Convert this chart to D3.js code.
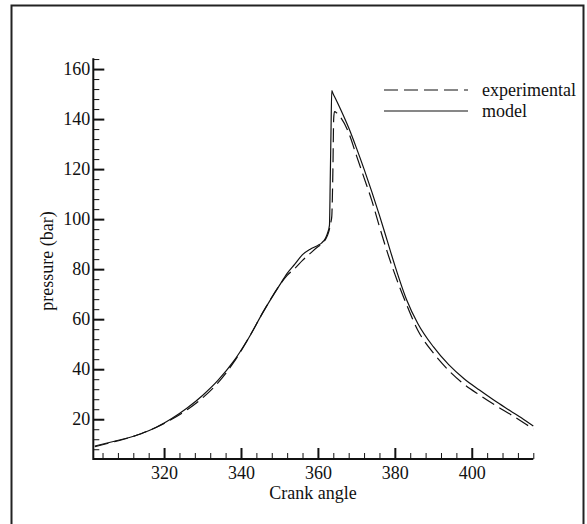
<!DOCTYPE html>
<html>
<head>
<meta charset="utf-8">
<script src="https://cdn.jsdelivr.net/npm/d3@7"></script>
<style>
  body { margin: 0; background: #fff; }
  svg text { font-family: "Liberation Serif", "Times New Roman", serif; fill: #111; }
</style>
</head>
<body>
<svg></svg>
<script>
// crank angle samples (deg)
const angles = [302, 306, 310, 314, 318, 322, 326, 330, 334, 338, 342, 346, 350, 352, 354, 356, 358, 360, 361, 362,
  362.5, 363.0, 363.2, 363.4, 363.6, 363.9, 364.1, 364.3, 365, 366, 368, 370, 372, 374, 376, 378, 380, 383, 386, 390,
  394, 398, 402, 406, 410, 414, 416];

// model pressure (bar)
const modelP = [9.3, 10.8, 12.3, 14.2, 16.8, 20.3, 24.5, 29.5, 35.5, 43, 52.5, 63.5, 73.5, 78.3, 82.0, 85.8, 88.0, 89.5, 90.5, 92.5,
  94.4, 97.5, 115, 135, 151.4, 150.3, 149.6, 149.0, 146.8, 143.5, 136.5, 128.5, 120, 111, 101.5, 91.5, 81.5, 68, 58.2, 49,
  41.8, 36.2, 31.7, 27.4, 23.4, 19.4, 17.3];

// experimental pressure (bar)
const expP = [9.0, 10.6, 12.2, 14.2, 16.8, 20.0, 23.8, 28.5, 34.5, 42.5, 52.5, 63.5, 73.5, 77.5, 80.3, 83.5, 86.3, 89.0, 90.0, 92,
  93.5, 96, 97.5, 99, 101, 120, 140, 143, 142.3, 140.5, 134.5, 125.5, 116.5, 107.5, 97, 87, 78, 66, 55.5, 46.5,
  39.5, 34, 29.7, 25.7, 22, 18.1, 16.1];

const xMajor = [320, 340, 360, 380, 400];
const yMajor = [20, 40, 60, 80, 100, 120, 140, 160];
const xMinor = d3.range(304, 417, 4).filter(v => !xMajor.includes(v));
const yMinor = d3.range(8, 165, 4).filter(v => !yMajor.includes(v));

const W = 587, H = 524;
const svg = d3.select('svg').attr('width', W).attr('height', H);

// outer frame
svg.append('rect')
  .attr('x', 11.5).attr('y', 5.5)
  .attr('width', 572).attr('height', 540)
  .attr('fill', 'none').attr('stroke', '#222').attr('stroke-width', 2);

const x = d3.scaleLinear().domain([301.6, 416]).range([93.3, 533.3]);
const y = d3.scaleLinear().domain([4.1, 164.3]).range([459, 58.3]);

const x0 = 459, y0 = 93.3;

// minor ticks
svg.append('g')
  .attr('transform', `translate(0,${x0})`)
  .call(d3.axisBottom(x).tickValues(xMinor).tickSize(-6).tickFormat(''))
  .call(g => g.select('.domain').remove())
  .call(g => g.selectAll('line').attr('stroke', '#111').attr('stroke-width', 1));
svg.append('g')
  .attr('transform', `translate(${y0},0)`)
  .call(d3.axisLeft(y).tickValues(yMinor).tickSize(-6).tickFormat(''))
  .call(g => g.select('.domain').remove())
  .call(g => g.selectAll('line').attr('stroke', '#111').attr('stroke-width', 1));

// major ticks + labels
svg.append('g')
  .attr('transform', `translate(0,${x0})`)
  .call(d3.axisBottom(x).tickValues(xMajor).tickSize(-11).tickSizeOuter(0).tickPadding(7))
  .call(g => g.select('.domain').remove())
  .call(g => g.selectAll('line').attr('stroke', '#111').attr('stroke-width', 2))
  .call(g => g.selectAll('text').attr('font-size', 18).attr('font-family', '"Liberation Serif", serif').attr('fill', '#111'));
svg.append('g')
  .attr('transform', `translate(${y0},0)`)
  .call(d3.axisLeft(y).tickValues(yMajor).tickSize(-11).tickSizeOuter(0).tickPadding(3))
  .call(g => g.select('.domain').remove())
  .call(g => g.selectAll('line').attr('stroke', '#111').attr('stroke-width', 2))
  .call(g => g.selectAll('text').attr('font-size', 18).attr('font-family', '"Liberation Serif", serif').attr('fill', '#111'));

// axis lines
svg.append('path')
  .attr('d', `M${y0},${y.range()[1]}V${x0}H${x.range()[1]}`)
  .attr('fill', 'none').attr('stroke', '#111').attr('stroke-width', 2);

// curves
const line = d3.line().curve(d3.curveMonotoneX).x(d => x(d[0])).y(d => y(d[1]));
svg.append('path')
  .datum(d3.zip(angles, expP))
  .attr('d', line)
  .attr('fill', 'none').attr('stroke', '#111').attr('stroke-width', 1.2)
  .attr('stroke-dasharray', '14,6');
svg.append('path')
  .datum(d3.zip(angles, modelP))
  .attr('d', line)
  .attr('fill', 'none').attr('stroke', '#111').attr('stroke-width', 1.2);

// axis titles
svg.append('text')
  .attr('x', 313).attr('y', 499)
  .attr('text-anchor', 'middle').attr('font-size', 18)
  .text('Crank angle');
svg.append('text')
  .attr('transform', 'translate(53,261) rotate(-90)')
  .attr('text-anchor', 'middle').attr('font-size', 18)
  .text('pressure (bar)');

// legend
const legend = [
  { name: 'experimental', dash: '14,6', ly: 90 },
  { name: 'model', dash: null, ly: 111 }
];
legend.forEach(d => {
  svg.append('line')
    .attr('x1', 384).attr('x2', 468).attr('y1', d.ly).attr('y2', d.ly)
    .attr('stroke', '#111').attr('stroke-width', 1.2)
    .attr('stroke-dasharray', d.dash);
  svg.append('text')
    .attr('x', 482).attr('y', d.ly + 5.5)
    .attr('font-size', 18)
    .text(d.name);
});
</script>
</body>
</html>
